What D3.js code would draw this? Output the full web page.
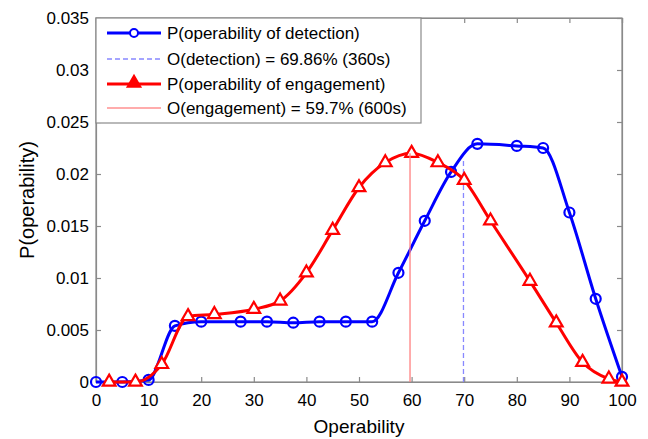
<!DOCTYPE html>
<html><head><meta charset="utf-8">
<script src="https://cdn.jsdelivr.net/npm/d3@7"></script>
<style>body{margin:0;background:#fff}svg{display:block;font-family:"Liberation Sans",Arial,sans-serif}</style>
</head><body><svg id="c" width="648" height="439"></svg>
<script>
const detX = [0,5,10,15,20,27.5,32.5,37.5,42.5,47.5,52.5,57.5,62.5,67.5,72.5,80,85,90,95,100];
const detY = [0,0,0.0002,0.0054,0.0058,0.0058,0.0058,0.0057,0.0058,0.0058,0.0058,0.0105,0.0155,0.0202,0.0229,0.0227,0.0225,0.0163,0.0080,0.0005];
const engX = [2.5,7.5,12.5,17.5,22.5,30,35,40,45,50,55,60,65,70,75,82.5,87.5,92.5,97.5,100];
const engY = [0,0,0.0017,0.0063,0.0065,0.0070,0.0078,0.0105,0.0146,0.0187,0.0211,0.0220,0.0211,0.0194,0.0155,0.0097,0.0057,0.0019,0.0003,0];
const detOpt = {x:69.86, y:0.0214};
const engOpt = {x:59.7, y:0.0220};
const xTicks = [0,10,20,30,40,50,60,70,80,90,100];
const yTicks = [0,0.005,0.01,0.015,0.02,0.025,0.03,0.035];
const legendLabels = ["P(operability of detection)","O(detection) = 69.86% (360s)","P(operability of engagement)","O(engagement) = 59.7% (600s)"];

const svg = d3.select("#c");
const L=96,R=622,T=18,B=382;
const x = d3.scaleLinear().domain([0,100]).range([L,R]);
const y = d3.scaleLinear().domain([0,0.035]).range([B,T]);
const axisCol="#8a8a8a";

// frame
svg.append("rect").attr("x",L).attr("y",T).attr("width",R-L).attr("height",B-T)
  .attr("fill","#fff").attr("stroke",axisCol).attr("stroke-width",1.2);

// axes (ticks inward)
const fmtY = d => d===0 ? "0" : String(+d.toFixed(3));
const xa = svg.append("g").attr("transform",`translate(0,${B})`)
  .call(d3.axisBottom(x).tickValues(xTicks).tickSize(-5).tickPadding(12).tickFormat(d3.format("d")));
const xt = svg.append("g").attr("transform",`translate(0,${T})`)
  .call(d3.axisTop(x).tickValues(xTicks).tickSize(-5).tickFormat(""));
const ya = svg.append("g").attr("transform",`translate(${L},0)`)
  .call(d3.axisLeft(y).tickValues(yTicks).tickSize(-5).tickPadding(7).tickFormat(fmtY));
const yr = svg.append("g").attr("transform",`translate(${R},0)`)
  .call(d3.axisRight(y).tickValues(yTicks).tickSize(-5).tickFormat(""));
[xa,xt,ya,yr].forEach(g=>{
  g.select(".domain").attr("stroke",axisCol).attr("stroke-width",1.2);
  g.selectAll(".tick line").attr("stroke",axisCol).attr("stroke-width",1.2);
  g.selectAll("text").attr("fill","#000").style("font-size","17px").style("font-family",'"Liberation Sans",Arial,sans-serif');
});

// axis labels
svg.append("text").attr("x",(L+R)/2).attr("y",433).attr("text-anchor","middle")
  .style("font-size","19px").text("Operability");
svg.append("text").attr("transform",`translate(34,${(T+B)/2}) rotate(-90)`).attr("text-anchor","middle")
  .style("font-size","20px").text("P(operability)");

const line = d3.line().x(d=>x(d[0])).y(d=>y(d[1])).curve(d3.curveMonotoneX);
const det = detX.map((v,i)=>[v,detY[i]]);
const eng = engX.map((v,i)=>[v,engY[i]]);
const tri = d3.symbol().type(d3.symbolTriangle).size(70);

// detection
svg.append("path").attr("d",line(det)).attr("fill","none").attr("stroke","#0000ff").attr("stroke-width",3);
svg.selectAll(".dc").data(det).join("circle").attr("cx",d=>x(d[0])).attr("cy",d=>y(d[1])).attr("r",5)
  .attr("fill","none").attr("stroke","#0000ff").attr("stroke-width",2.2);
svg.append("line").attr("x1",x(detOpt.x)).attr("x2",x(detOpt.x)).attr("y1",y(0)).attr("y2",y(detOpt.y))
  .attr("stroke","#8888ff").attr("stroke-width",1.3).attr("stroke-dasharray","5,3");

// engagement
svg.append("path").attr("d",line(eng)).attr("fill","none").attr("stroke","#ff0000").attr("stroke-width",3);
svg.selectAll(".et").data(eng).join("path").attr("d",tri)
  .attr("transform",d=>`translate(${x(d[0])},${y(d[1])})`)
  .attr("fill","#fff").attr("stroke","#ff0000").attr("stroke-width",2.2);
svg.append("line").attr("x1",x(engOpt.x)).attr("x2",x(engOpt.x)).attr("y1",y(0)).attr("y2",y(engOpt.y))
  .attr("stroke","#ff8080").attr("stroke-width",1.3);

// legend
const lg = svg.append("g");
lg.append("rect").attr("x",96).attr("y",18).attr("width",325).attr("height",105)
  .attr("fill","#fff").attr("stroke",axisCol).attr("stroke-width",1.2);
const rowsY=[33,59,84,108];
const sx1=107, sx2=161, sm=134;
// row 0
lg.append("line").attr("x1",sx1).attr("x2",sx2).attr("y1",rowsY[0]).attr("y2",rowsY[0]).attr("stroke","#0000ff").attr("stroke-width",3);
lg.append("circle").attr("cx",sm).attr("cy",rowsY[0]).attr("r",4).attr("fill","#fff").attr("stroke","#0000ff").attr("stroke-width",2);
// row 1
lg.append("line").attr("x1",sx1).attr("x2",sx2).attr("y1",rowsY[1]).attr("y2",rowsY[1]).attr("stroke","#8888ff").attr("stroke-width",1.3).attr("stroke-dasharray","5,3");
// row 2
lg.append("line").attr("x1",sx1).attr("x2",sx2).attr("y1",rowsY[2]).attr("y2",rowsY[2]).attr("stroke","#ff0000").attr("stroke-width",3);
lg.append("path").attr("d",tri).attr("transform",`translate(${sm},${rowsY[2]-1})`).attr("fill","#ff0000").attr("stroke","#ff0000").attr("stroke-width",2);
// row 3
lg.append("line").attr("x1",sx1).attr("x2",sx2).attr("y1",rowsY[3]).attr("y2",rowsY[3]).attr("stroke","#ff9090").attr("stroke-width",1.3);
legendLabels.forEach((t,i)=>{
  lg.append("text").attr("x",167).attr("y",rowsY[i]).attr("dy","0.35em").style("font-size","17px").text(t);
});
</script></body></html>
